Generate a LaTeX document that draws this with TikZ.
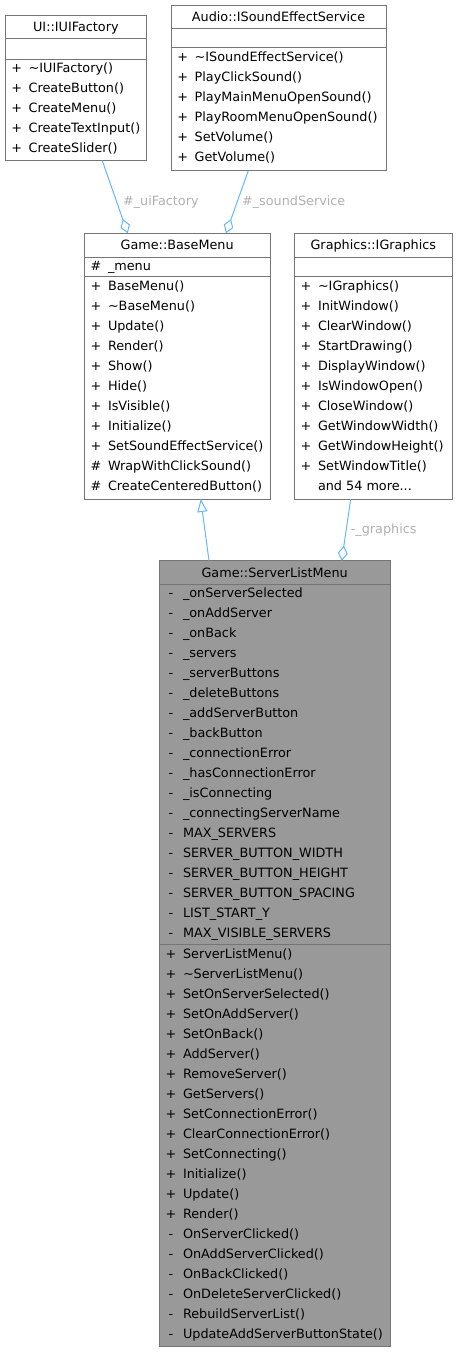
\documentclass[tikz,border=0pt]{standalone}
\usepackage{fontspec}
\setmainfont{DejaVu Sans}
\usetikzlibrary{arrows.meta}
\definecolor{edgeblue}{HTML}{63B8FF}
\definecolor{bordergray}{HTML}{757575}
\definecolor{labelgray}{HTML}{B0B0B0}
\definecolor{hlfill}{HTML}{999999}
\newcommand\fs{\fontsize{12.8}{15}\selectfont}
\tikzset{
  umlbox/.style={draw=bordergray, line width=1pt, rectangle, inner sep=0pt, outer sep=0pt},
  sepline/.style={draw=bordergray, line width=1pt},
  txt/.style={inner sep=0pt, font=\fs, text height=9.2pt, text depth=0pt},
  sgn/.style={txt, anchor=center},
  mem/.style={txt, anchor=west},
  ttl/.style={txt, anchor=center},
  rel/.style={draw=edgeblue, line width=1pt},
  agg/.style={rel, -{Diamond[length=15pt,width=10pt,fill=white,line width=1pt]}},
  inh/.style={rel, -{Triangle[length=13pt,width=10pt,fill=white,line width=1pt]}},
  lbl/.style={text=labelgray, font=\fs, inner sep=0pt, text height=9.2pt, text depth=0pt},
}
\newcommand\members[4]{% #1 prefix, #2 x-left, #3 y-first, #4 list
  \foreach \s/\t [count=\i from 0] in {#4} {
    \node[sgn] (#1s\i) at ({#2+11.7},{#3+\i*20}) {\s};
    \node[mem] (#1m\i) at ({#2+23.5},{#3+\i*20}) {\t};
  }}
\begin{document}
\begin{tikzpicture}[x=1pt,y=-1pt]
\useasboundingbox (0,0) rectangle (457,1352);
% boxes
\node[umlbox, minimum width=141.7pt, minimum height=145.7pt] (uif) at (75.85,87.85) {};
\node[umlbox, minimum width=215pt, minimum height=165.7pt] (ses) at (278.5,87.85) {};
\node[umlbox, minimum width=185.7pt, minimum height=265.7pt] (bm) at (177.15,366.15) {};
\node[umlbox, minimum width=158pt, minimum height=265.7pt] (ig) at (373.3,366.15) {};
\node[umlbox, fill=hlfill, minimum width=230.7pt, minimum height=786pt] (slm) at (274.65,953.7) {};
% separators
\draw[sepline] (5,38.3) -- (146.7,38.3);
\draw[sepline] (5,59) -- (146.7,59);
\draw[sepline] (171,28) -- (386,28);
\draw[sepline] (171,47.7) -- (386,47.7);
\draw[sepline] (84.3,257) -- (270,257);
\draw[sepline] (84.3,276.7) -- (270,276.7);
\draw[sepline] (294.3,257) -- (452.3,257);
\draw[sepline] (294.3,276.7) -- (452.3,276.7);
\draw[sepline] (159.3,584.3) -- (390,584.3);
\draw[sepline] (159.3,944.3) -- (390,944.3);
% titles
\node[ttl] (uift) at (75.85,27) {UI::IUIFactory};
\node[ttl] (sest) at (278.5,16.5) {Audio::ISoundEffectService};
\node[ttl] (bmt) at (177.15,245.3) {Game::BaseMenu};
\node[ttl] (igt) at (373.3,245.3) {Graphics::IGraphics};
\node[ttl] (slmt) at (274.65,572.5) {Game::ServerListMenu};
% members
\members{uif}{5}{67.7}{+/{\textasciitilde IUIFactory()}, +/CreateButton(), +/CreateMenu(), +/CreateTextInput(), +/CreateSlider()}
\members{ses}{171}{56.7}{+/{\textasciitilde ISoundEffectService()}, +/PlayClickSound(), +/PlayMainMenuOpenSound(), +/PlayRoomMenuOpenSound(), +/SetVolume(), +/GetVolume()}
\members{bma}{84.3}{265.7}{\#/\_menu}
\members{bm}{84.3}{285.7}{+/BaseMenu(), +/{\textasciitilde BaseMenu()}, +/Update(), +/Render(), +/Show(), +/Hide(), +/IsVisible(), +/Initialize(), +/SetSoundEffectService(), \#/WrapWithClickSound(), \#/CreateCenteredButton()}
\members{ig}{294.3}{285.7}{+/{\textasciitilde IGraphics()}, +/InitWindow(), +/ClearWindow(), +/StartDrawing(), +/DisplayWindow(), +/IsWindowOpen(), +/CloseWindow(), +/GetWindowWidth(), +/GetWindowHeight(), +/SetWindowTitle(), {}/{and 54 more...}}
\members{slma}{159.3}{593.3}{-/\_onServerSelected, -/\_onAddServer, -/\_onBack, -/\_servers, -/\_serverButtons, -/\_deleteButtons, -/\_addServerButton, -/\_backButton, -/\_connectionError, -/\_hasConnectionError, -/\_isConnecting, -/\_connectingServerName, -/MAX\_SERVERS, -/SERVER\_BUTTON\_WIDTH, -/SERVER\_BUTTON\_HEIGHT, -/SERVER\_BUTTON\_SPACING, -/LIST\_START\_Y, -/MAX\_VISIBLE\_SERVERS}
\members{slm}{159.3}{954.3}{+/ServerListMenu(), +/{\textasciitilde ServerListMenu()}, +/SetOnServerSelected(), +/SetOnAddServer(), +/SetOnBack(), +/AddServer(), +/RemoveServer(), +/GetServers(), +/SetConnectionError(), +/ClearConnectionError(), +/SetConnecting(), +/Initialize(), +/Update(), +/Render(), -/OnServerClicked(), -/OnAddServerClicked(), -/OnBackClicked(), -/OnDeleteServerClicked(), -/RebuildServerList(), -/UpdateAddServerButtonState()}
% connectors
\draw[agg] ([xshift=97.3pt]uif.south west) -- ([xshift=43.4pt]bm.north west);
\draw[agg] ([xshift=77.3pt]ses.south west) -- ([xshift=141.7pt]bm.north west);
\draw[inh] ([xshift=49.7pt]slm.north west) -- ([xshift=116.4pt]bm.south west);
\draw[agg] ([xshift=56.4pt]ig.south west) -- ([xshift=182.4pt]slm.north west);
% labels
\node[lbl] (l1) at (160.8,201) {\#\_uiFactory};
\node[lbl] (l2) at (293.7,201) {\#\_soundService};
\node[lbl] (l3) at (383.7,529) {-\_graphics};
\end{tikzpicture}
\end{document}
